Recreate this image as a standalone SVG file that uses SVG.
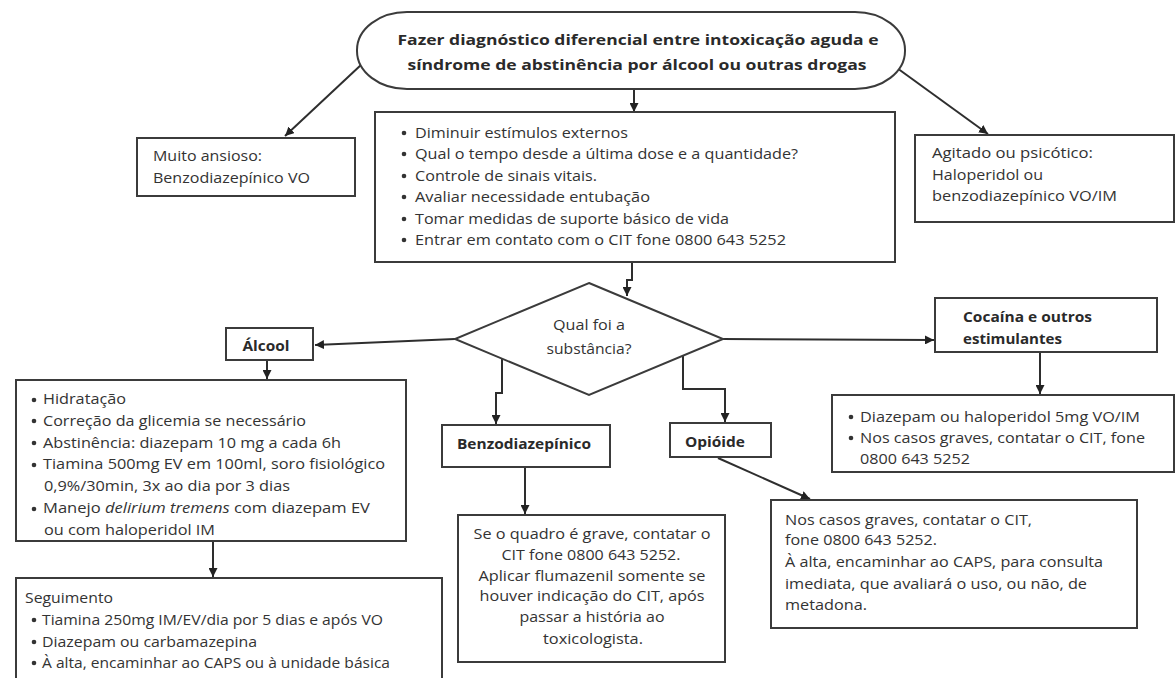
<svg xmlns="http://www.w3.org/2000/svg" width="1176" height="678" viewBox="0 0 1176 678">
  <style>
    .shape { fill: #ffffff; stroke: #3b3b3b; stroke-width: 2; }
    .wire { fill: none; stroke: #2e2e2e; stroke-width: 2; }
    .txt { font-family: "Open Sans", "Noto Sans", "Liberation Sans", sans-serif; font-size: 14.5px; fill: #333333; }
    .bold { font-weight: bold; fill: #2a2a2a; }
    .mid { text-anchor: middle; }
    .dot { fill: #333333; }
  </style>
  <defs>
    <marker id="arrow" viewBox="0 0 10 10" refX="10" refY="5" markerWidth="9" markerHeight="9" markerUnits="userSpaceOnUse" orient="auto">
      <path d="M0,0 L10,5 L0,10 z" fill="#222222"/>
    </marker>
  </defs>

  <rect width="1176" height="678" fill="#ffffff"/>

  <!-- connectors -->
  <g id="connectors" class="wire" marker-end="url(#arrow)">
    <path d="M634,89 V112"/>
    <path d="M362,64 L285,136"/>
    <path d="M897,68 L988,134"/>
    <path d="M632,263 V280 H627 V296"/>
    <path d="M455,339 L315,345"/>
    <path d="M723,339 L934,340"/>
    <path d="M502,359 V393 H496 V424"/>
    <path d="M683,356 V389 H725 V422"/>
    <path d="M267,360 V379"/>
    <path d="M213,541 V577"/>
    <path d="M525,467 V514"/>
    <path d="M718,458 L810,499"/>
    <path d="M1040,352 V394"/>
  </g>

  <!-- start: differential diagnosis -->
  <g id="start">
    <rect class="shape" x="357" y="12" width="548" height="77" rx="50" ry="38"/>
    <text class="txt bold mid" x="638" y="45" font-size="16" textLength="481" lengthAdjust="spacingAndGlyphs">Fazer diagnóstico diferencial entre intoxicação aguda e</text>
    <text class="txt bold mid" x="637" y="70" font-size="16" textLength="459" lengthAdjust="spacingAndGlyphs">síndrome de abstinência por álcool ou outras drogas</text>
  </g>

  <!-- anxious patient -->
  <g id="anxious">
    <rect class="shape" x="137" y="138" width="218" height="58"/>
    <text class="txt" x="153" y="161" textLength="109" lengthAdjust="spacingAndGlyphs">Muito ansioso:</text>
    <text class="txt" x="153" y="183" textLength="157" lengthAdjust="spacingAndGlyphs">Benzodiazepínico VO</text>
  </g>

  <!-- initial measures -->
  <g id="measures">
    <rect class="shape" x="375" y="112" width="520" height="150"/>
    <circle class="dot" cx="404" cy="133" r="2.3"/>
    <circle class="dot" cx="404" cy="154" r="2.3"/>
    <circle class="dot" cx="404" cy="176" r="2.3"/>
    <circle class="dot" cx="404" cy="197" r="2.3"/>
    <circle class="dot" cx="404" cy="219" r="2.3"/>
    <circle class="dot" cx="404" cy="240" r="2.3"/>
    <text class="txt" x="415" y="138" textLength="213" lengthAdjust="spacingAndGlyphs">Diminuir estímulos externos</text>
    <text class="txt" x="415" y="159" textLength="383" lengthAdjust="spacingAndGlyphs">Qual o tempo desde a última dose e a quantidade?</text>
    <text class="txt" x="415" y="181" textLength="182" lengthAdjust="spacingAndGlyphs">Controle de sinais vitais.</text>
    <text class="txt" x="415" y="202" textLength="235" lengthAdjust="spacingAndGlyphs">Avaliar necessidade entubação</text>
    <text class="txt" x="415" y="224" textLength="314" lengthAdjust="spacingAndGlyphs">Tomar medidas de suporte básico de vida</text>
    <text class="txt" x="415" y="245" textLength="371" lengthAdjust="spacingAndGlyphs">Entrar em contato com o CIT fone 0800 643 5252</text>
  </g>

  <!-- agitated or psychotic -->
  <g id="agitated">
    <rect class="shape" x="915" y="135" width="259" height="87"/>
    <text class="txt" x="932" y="158" textLength="161" lengthAdjust="spacingAndGlyphs">Agitado ou psicótico:</text>
    <text class="txt" x="932" y="180" textLength="111" lengthAdjust="spacingAndGlyphs">Haloperidol ou</text>
    <text class="txt" x="932" y="201" textLength="185" lengthAdjust="spacingAndGlyphs">benzodiazepínico VO/IM</text>
  </g>

  <!-- decision -->
  <g id="substance">
    <polygon class="shape" points="589,283 723,339 589,395 455,339"/>
    <text class="txt mid" x="589" y="330" textLength="72" lengthAdjust="spacingAndGlyphs">Qual foi a</text>
    <text class="txt mid" x="589" y="354" textLength="85" lengthAdjust="spacingAndGlyphs">substância?</text>
  </g>

  <!-- alcohol branch -->
  <g id="alcohol">
    <rect class="shape" x="226" y="328" width="87" height="32"/>
    <text class="txt bold mid" x="266" y="351" textLength="47" lengthAdjust="spacingAndGlyphs">Álcool</text>
  </g>

  <g id="alcohol-care">
    <rect class="shape" x="16" y="380" width="390" height="161"/>
    <circle class="dot" cx="34" cy="400" r="2.3"/>
    <circle class="dot" cx="34" cy="421" r="2.3"/>
    <circle class="dot" cx="34" cy="443" r="2.3"/>
    <circle class="dot" cx="34" cy="465" r="2.3"/>
    <circle class="dot" cx="34" cy="509" r="2.3"/>
    <text class="txt" x="43" y="404" textLength="83" lengthAdjust="spacingAndGlyphs">Hidratação</text>
    <text class="txt" x="43" y="426" textLength="263" lengthAdjust="spacingAndGlyphs">Correção da glicemia se necessário</text>
    <text class="txt" x="43" y="448" textLength="298" lengthAdjust="spacingAndGlyphs">Abstinência: diazepam 10 mg a cada 6h</text>
    <text class="txt" x="43" y="469" textLength="342" lengthAdjust="spacingAndGlyphs">Tiamina 500mg EV em 100ml, soro fisiológico</text>
    <text class="txt" x="44" y="491" textLength="246" lengthAdjust="spacingAndGlyphs">0,9%/30min, 3x ao dia por 3 dias</text>
    <text class="txt" x="43" y="513" textLength="327" lengthAdjust="spacingAndGlyphs">Manejo <tspan font-style="italic">delirium tremens</tspan> com diazepam EV</text>
    <text class="txt" x="44" y="535" textLength="171" lengthAdjust="spacingAndGlyphs">ou com haloperidol IM</text>
  </g>

  <g id="follow-up">
    <path class="shape" d="M16,680 V578 H442 V680"/>
    <circle class="dot" cx="34" cy="620" r="2.3"/>
    <circle class="dot" cx="34" cy="642" r="2.3"/>
    <circle class="dot" cx="34" cy="663" r="2.3"/>
    <text class="txt" x="25" y="603" textLength="88" lengthAdjust="spacingAndGlyphs">Seguimento</text>
    <text class="txt" x="42" y="625" textLength="341" lengthAdjust="spacingAndGlyphs">Tiamina 250mg IM/EV/dia por 5 dias e após VO</text>
    <text class="txt" x="42" y="647" textLength="215" lengthAdjust="spacingAndGlyphs">Diazepam ou carbamazepina</text>
    <text class="txt" x="42" y="668" textLength="348" lengthAdjust="spacingAndGlyphs">À alta, encaminhar ao CAPS ou à unidade básica</text>
  </g>

  <!-- benzodiazepine branch -->
  <g id="benzo">
    <rect class="shape" x="442" y="425" width="168" height="42"/>
    <text class="txt bold mid" x="524" y="449" textLength="134" lengthAdjust="spacingAndGlyphs">Benzodiazepínico</text>
  </g>

  <g id="benzo-care">
    <rect class="shape" x="458" y="515" width="267" height="147"/>
    <text class="txt mid" x="592" y="539" textLength="237" lengthAdjust="spacingAndGlyphs">Se o quadro é grave, contatar o</text>
    <text class="txt mid" x="591" y="560" textLength="179" lengthAdjust="spacingAndGlyphs">CIT fone 0800 643 5252.</text>
    <text class="txt mid" x="592" y="581" textLength="227" lengthAdjust="spacingAndGlyphs">Aplicar flumazenil somente se</text>
    <text class="txt mid" x="592" y="601" textLength="225" lengthAdjust="spacingAndGlyphs">houver indicação do CIT, após</text>
    <text class="txt mid" x="592" y="622" textLength="145" lengthAdjust="spacingAndGlyphs">passar a história ao</text>
    <text class="txt mid" x="593" y="644" textLength="100" lengthAdjust="spacingAndGlyphs">toxicologista.</text>
  </g>

  <!-- opioid branch -->
  <g id="opioid">
    <rect class="shape" x="670" y="423" width="101" height="34"/>
    <text class="txt bold mid" x="715" y="447" textLength="60" lengthAdjust="spacingAndGlyphs">Opióide</text>
  </g>

  <g id="opioid-care">
    <rect class="shape" x="771" y="500" width="366" height="128"/>
    <text class="txt" x="785" y="525" textLength="247" lengthAdjust="spacingAndGlyphs">Nos casos graves, contatar o CIT,</text>
    <text class="txt" x="785" y="545" textLength="152" lengthAdjust="spacingAndGlyphs">fone 0800 643 5252.</text>
    <text class="txt" x="785" y="567" textLength="318" lengthAdjust="spacingAndGlyphs">À alta, encaminhar ao CAPS, para consulta</text>
    <text class="txt" x="785" y="589" textLength="302" lengthAdjust="spacingAndGlyphs">imediata, que avaliará o uso, ou não, de</text>
    <text class="txt" x="785" y="610" textLength="82" lengthAdjust="spacingAndGlyphs">metadona.</text>
  </g>

  <!-- stimulants branch -->
  <g id="stimulants">
    <rect class="shape" x="935" y="298" width="222" height="54"/>
    <text class="txt bold" x="963" y="322" textLength="129" lengthAdjust="spacingAndGlyphs">Cocaína e outros</text>
    <text class="txt bold" x="963" y="344" textLength="99" lengthAdjust="spacingAndGlyphs">estimulantes</text>
  </g>

  <g id="stimulants-care">
    <rect class="shape" x="832" y="395" width="342" height="77"/>
    <circle class="dot" cx="851" cy="417" r="2.3"/>
    <circle class="dot" cx="851" cy="438" r="2.3"/>
    <text class="txt" x="860" y="422" textLength="280" lengthAdjust="spacingAndGlyphs">Diazepam ou haloperidol 5mg VO/IM</text>
    <text class="txt" x="860" y="443" textLength="285" lengthAdjust="spacingAndGlyphs">Nos casos graves, contatar o CIT, fone</text>
    <text class="txt" x="860" y="464" textLength="110" lengthAdjust="spacingAndGlyphs">0800 643 5252</text>
  </g>
</svg>
